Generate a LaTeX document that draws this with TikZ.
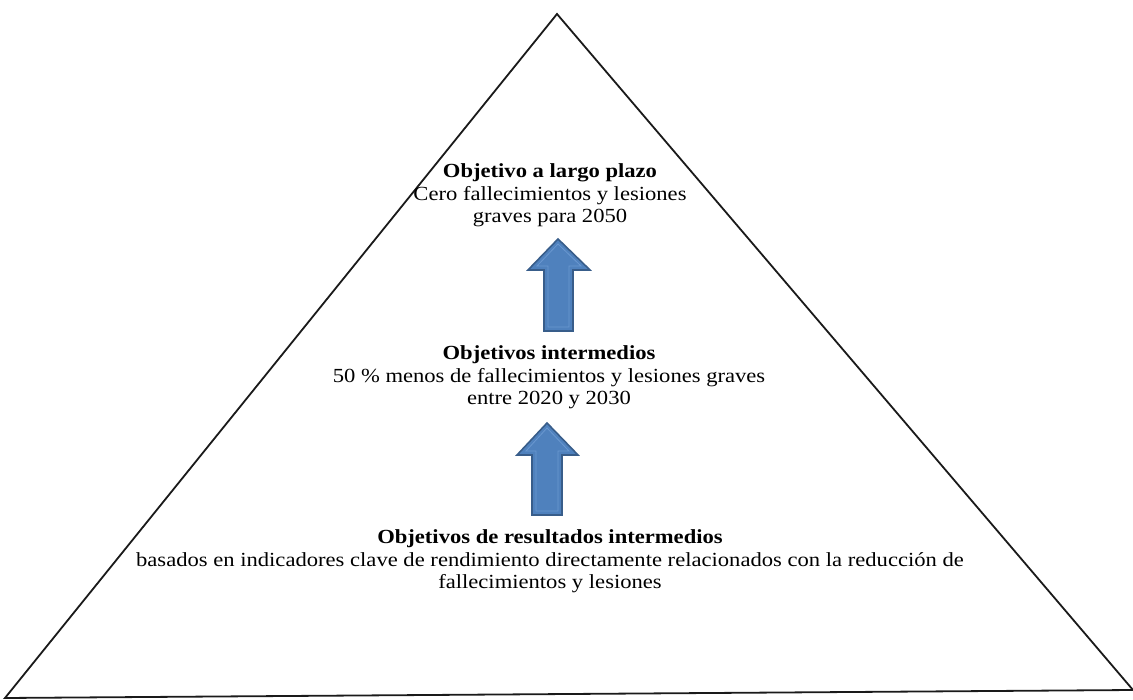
\documentclass[tikz,border=0pt]{standalone}
\usepackage{fontspec}
\setmainfont{Liberation Serif}
\definecolor{arrowfill}{HTML}{4F81BD}
\definecolor{arrowedge}{HTML}{385D8A}
\definecolor{arrowinner}{HTML}{6A98D0}
\definecolor{edgegray}{HTML}{1A1A1A}
\tikzset{
  pyramid/.style={draw=edgegray, line width=1.8pt, line join=miter},
  uparrow/.style={fill=arrowfill, draw=arrowedge, line width=1.6pt, line join=miter},
  innerline/.style={draw=arrowinner, line width=0.8pt},
  goaltext/.style={align=center, inner sep=0pt, anchor=north, xscale=1.13,
    font=\fontsize{20}{22.5}\selectfont}
}
\begin{document}
\begin{tikzpicture}[x=1pt,y=-1pt]
\useasboundingbox (0,0) rectangle (1133,700);
% pyramid
\coordinate (apex) at (557,14);
\coordinate (bl) at (5,698);
\coordinate (br) at (1133,690);
\draw[pyramid] (apex) -- (br) -- (bl) -- cycle;

% texts
\node[goaltext] (top) at (550,163.5) {\textbf{Objetivo a largo plazo}\\Cero fallecimientos y lesiones\\graves para 2050};
\node[goaltext] (mid) at (549,345.5) {\textbf{Objetivos intermedios}\\50 \% menos de fallecimientos y lesiones graves\\entre 2020 y 2030};
\node[goaltext] (bot) at (550,529.5) {\textbf{Objetivos de resultados intermedios}\\basados en indicadores clave de rendimiento directamente relacionados con la reducción de\\fallecimientos y lesiones};

% upper arrow
\draw[uparrow] (544,331) -- (544,270) -- (528,270) -- (558,239) -- (590,270) -- (573,270) -- (573,331) -- cycle;
\draw[innerline] (548,327) -- (548,266) -- (537,266) -- (558,244) -- (581,266) -- (569,266) -- (569,327) -- cycle;
% lower arrow
\draw[uparrow] (532,515) -- (532,455) -- (517,455) -- (547,423) -- (578,455) -- (562,455) -- (562,515) -- cycle;
\draw[innerline] (536,511) -- (536,451) -- (526,451) -- (547,428) -- (569,451) -- (558,451) -- (558,511) -- cycle;
\end{tikzpicture}
\end{document}
